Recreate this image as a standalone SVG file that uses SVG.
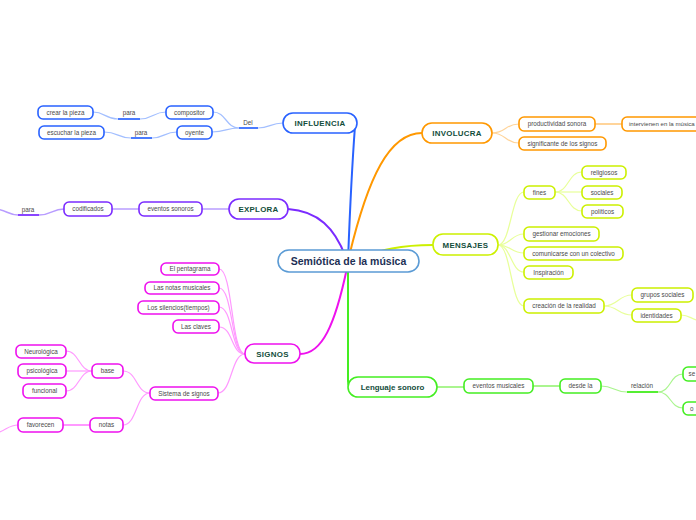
<svg xmlns="http://www.w3.org/2000/svg" width="696" height="520" viewBox="0 0 696 520">
<style>
rect{fill:#fff;stroke-width:1.6}
.t{font-family:"Liberation Sans",Arial,sans-serif;font-size:6.3px;fill:#4a4a4a;text-anchor:middle}
.l{font-family:"Liberation Sans",Arial,sans-serif;font-size:6.3px;fill:#4a4a4a;text-anchor:middle}
.m{font-family:"Liberation Sans",Arial,sans-serif;font-size:7.9px;font-weight:bold;fill:#124d3b;text-anchor:middle;letter-spacing:0.3px}
.c path{fill:none}
.b rect{stroke:#2962ff}.o rect{stroke:#ff9800}.y rect{stroke:#ccf000}.g rect{stroke:#44ee22}.p rect{stroke:#ee11ee}.v rect{stroke:#7b2bff}
</style>
<g id="connectors" class="c">
<path d="M348,261 Q351,180 355,126" stroke="#2962ff" stroke-width="2"/>
<path d="M348,261 C368,175 390,133 422,133" stroke="#ff9800" stroke-width="2"/>
<path d="M348,261 C385,249 400,245 433,245" stroke="#ccf000" stroke-width="2"/>
<path d="M348,261 L348,381 Q348,387 352,387" stroke="#44ee22" stroke-width="2"/>
<path d="M347,268 C335,325 322,354 300,354" stroke="#ee11ee" stroke-width="2"/>
<path d="M346,258 C335,228 318,211 288,209" stroke="#7b2bff" stroke-width="2"/>
<g stroke="#a3bfff" stroke-width="1.2">
<path d="M283,123 C270,123 270,128 258,128"/>
<path d="M239,128 C226,128 226,112 213,112"/>
<path d="M239,128 C226,128 226,132 212,132"/>
<path d="M166,112 C153,112 153,119 140,119"/>
<path d="M118,119 C105,119 105,112 93,112"/>
<path d="M177,132 C164,132 164,138 152,138"/>
<path d="M131,138 C118,138 118,132 104,132"/>
</g>
<g stroke="#4a7bff" stroke-width="2">
<path d="M239,128 H258"/><path d="M118,119 H140"/><path d="M131,138 H152"/>
</g>
<g stroke="#b89cff" stroke-width="1.5">
<path d="M229,209 H202"/>
<path d="M139,209 H112"/>
<path d="M64,209 C52,209 52,215 39,215"/>
<path d="M18,215 C9,215 6,210 -4,209"/>
</g>
<path d="M18,215 H39" stroke="#8a45ff" stroke-width="2"/>
<g stroke="#ffd49a" stroke-width="1.2">
<path d="M492,133 C506,133 505,124 519,124"/>
<path d="M492,133 C506,133 505,143 519,143"/>
<path d="M595,124 H622" stroke-width="2"/>
</g>
<g stroke="#e8ff99" stroke-width="1.2">
<path d="M498,245 C511,245 511,192 524,192"/>
<path d="M498,245 C511,245 511,234 524,234"/>
<path d="M498,245 C511,245 511,253 524,253"/>
<path d="M498,245 C511,245 511,272 524,272"/>
<path d="M498,245 C511,245 511,306 524,306"/>
<path d="M555,192 C569,192 568,172 582,172"/>
<path d="M555,192 H582"/>
<path d="M555,192 C569,192 568,211 582,211"/>
<path d="M604,306 C618,306 618,295 632,295"/>
<path d="M604,306 C618,306 618,315 632,315"/>
<path d="M681,315 C690,315 690,319 700,321"/>
</g>
<g stroke="#aaf58f" stroke-width="1.2">
<path d="M437,387 H464" stroke-width="2"/>
<path d="M533,386 H560" stroke-width="2"/>
<path d="M601,386 C614,386 614,392 627,392"/>
<path d="M658,392 C671,392 670,374 683,374"/>
<path d="M658,392 C671,392 670,408 683,408"/>
</g>
<path d="M627,392 H658" stroke="#55ee33" stroke-width="2"/>
<g stroke="#ff99ff" stroke-width="1.2">
<path d="M245,354 C231,354 233,269 219,269"/>
<path d="M245,354 C231,354 233,288 219,288"/>
<path d="M245,354 C231,354 233,307 219,307"/>
<path d="M245,354 C231,354 233,327 219,327"/>
<path d="M245,354 C231,354 232,393 218,393"/>
<path d="M150,393 C136,393 137,371 123,371"/>
<path d="M150,393 C136,393 137,425 123,425"/>
<path d="M92,371 C79,371 79,351 66,351"/>
<path d="M92,371 H66"/>
<path d="M92,371 C79,371 79,391 66,391"/>
<path d="M90,425 H63" stroke-width="2"/>
<path d="M18,425 C8,425 6,431 -4,433"/>
</g>
</g>
<g id="center"><rect x="278" y="250" width="141" height="22" rx="11" stroke="#5b9bd5"/><text x="348.5" y="264.5" style="font-family:'Liberation Sans',Arial,sans-serif;font-size:10.5px;font-weight:bold;fill:#1c2f55;text-anchor:middle">Semiótica de la música</text></g>
<g class="b">
<g id="influencia"><rect x="283" y="113" width="74" height="20" rx="10"/><text class="m" x="320" y="126">INFLUENCIA</text></g>
<g id="del"><text class="l" x="248" y="124.5">Del</text></g>
<g id="compositor"><rect x="166" y="106" width="47" height="13" rx="5"/><text class="t" x="189.5" y="114.7">compositor</text></g>
<g id="oyente"><rect x="177" y="126" width="35" height="13" rx="5"/><text class="t" x="194.5" y="134.7">oyente</text></g>
<g id="para1"><text class="l" x="129" y="115">para</text></g>
<g id="para2"><text class="l" x="141" y="134.5">para</text></g>
<g id="crear"><rect x="38" y="106" width="55" height="13" rx="5"/><text class="t" x="65.5" y="114.7">crear la pieza</text></g>
<g id="escuchar"><rect x="39" y="126" width="65" height="13" rx="5"/><text class="t" x="71.5" y="134.7">escuchar la pieza</text></g>
</g>
<g class="v">
<g id="explora"><rect x="229" y="199" width="59" height="20" rx="10"/><text class="m" x="258.5" y="212">EXPLORA</text></g>
<g id="eventos-sonoros"><rect x="139" y="202" width="63" height="14" rx="5"/><text class="t" x="170.5" y="211.2">eventos sonoros</text></g>
<g id="codificados"><rect x="64" y="202" width="48" height="14" rx="5"/><text class="t" x="88" y="211.2">codificados</text></g>
<g id="para3"><text class="l" x="28" y="211.5">para</text></g>
</g>
<g class="o">
<g id="involucra"><rect x="422" y="123" width="70" height="20" rx="10"/><text class="m" x="457" y="136">INVOLUCRA</text></g>
<g id="productividad"><rect x="519" y="117" width="76" height="14" rx="5"/><text class="t" x="557" y="126.2">productividad sonora</text></g>
<g id="significante"><rect x="519" y="137" width="87" height="13" rx="5"/><text class="t" x="562.5" y="145.7">significante de los signos</text></g>
<g id="intervienen"><rect x="622" y="117" width="100" height="14" rx="5"/><text class="t" x="629" y="126.2" style="text-anchor:start;font-size:6.1px">intervienen en la música</text></g>
</g>
<g class="y">
<g id="mensajes"><rect x="433" y="234" width="65" height="21" rx="10"/><text class="m" x="465.5" y="247.5">MENSAJES</text></g>
<g id="fines"><rect x="524" y="186" width="31" height="13" rx="5"/><text class="t" x="539.5" y="194.7">fines</text></g>
<g id="religiosos"><rect x="582" y="166" width="44" height="13" rx="5"/><text class="t" x="604" y="174.7">religiosos</text></g>
<g id="sociales"><rect x="582" y="186" width="40" height="13" rx="5"/><text class="t" x="602" y="194.7">sociales</text></g>
<g id="politicos"><rect x="582" y="205" width="41" height="13" rx="5"/><text class="t" x="602.5" y="213.7">políticos</text></g>
<g id="gestionar"><rect x="524" y="227" width="75" height="14" rx="5"/><text class="t" x="561.5" y="236.2">gestionar emociones</text></g>
<g id="comunicarse"><rect x="524" y="247" width="99" height="13" rx="5"/><text class="t" x="573.5" y="255.7">comunicarse con un colectivo</text></g>
<g id="inspiracion"><rect x="524" y="266" width="49" height="13" rx="5"/><text class="t" x="548.5" y="274.7">Inspiración</text></g>
<g id="creacion"><rect x="524" y="299" width="80" height="14" rx="5"/><text class="t" x="564" y="308.2">creación de la realidad</text></g>
<g id="grupos"><rect x="632" y="288" width="61" height="14" rx="5"/><text class="t" x="662.5" y="297.2">grupos sociales</text></g>
<g id="identidades"><rect x="632" y="309" width="49" height="13" rx="5"/><text class="t" x="656.5" y="317.7">identidades</text></g>
</g>
<g class="g">
<g id="lenguaje"><rect x="348" y="377" width="89" height="20" rx="10"/><text class="m" x="392.5" y="390" style="letter-spacing:0">Lenguaje sonoro</text></g>
<g id="eventos-musicales"><rect x="464" y="379" width="69" height="14" rx="5"/><text class="t" x="498.5" y="388.2">eventos musicales</text></g>
<g id="desde"><rect x="560" y="379" width="41" height="14" rx="5"/><text class="t" x="580.5" y="388.2">desde la</text></g>
<g id="relacion"><text class="l" x="642" y="388">relación</text></g>
<g id="rel-top"><rect x="683" y="367" width="40" height="14" rx="5"/><text class="t" x="688.5" y="376.2" style="text-anchor:start">se</text></g>
<g id="rel-bottom"><rect x="683" y="402" width="40" height="13" rx="5"/><text class="t" x="690" y="410.7" style="text-anchor:start">o</text></g>
</g>
<g class="p">
<g id="signos"><rect x="245" y="344" width="55" height="19" rx="9"/><text class="m" x="272.5" y="356.7">SIGNOS</text></g>
<g id="pentagrama"><rect x="161" y="263" width="58" height="12" rx="5"/><text class="t" x="190" y="271.2">El pentagrama</text></g>
<g id="notas-musicales"><rect x="145" y="282" width="74" height="12" rx="5"/><text class="t" x="182" y="290.2">Las notas musicales</text></g>
<g id="silencios"><rect x="138" y="301" width="81" height="13" rx="5"/><text class="t" x="178.5" y="309.7">Los silencios(tiempos)</text></g>
<g id="claves"><rect x="173" y="320" width="46" height="13" rx="5"/><text class="t" x="196" y="328.7">Las claves</text></g>
<g id="sistema"><rect x="150" y="387" width="68" height="13" rx="5"/><text class="t" x="184" y="395.7">Sistema de signos</text></g>
<g id="base"><rect x="92" y="364" width="31" height="14" rx="5"/><text class="t" x="107.5" y="373.2">base</text></g>
<g id="notas"><rect x="90" y="418" width="33" height="14" rx="5"/><text class="t" x="106.5" y="427.2">notas</text></g>
<g id="neurologica"><rect x="16" y="345" width="50" height="13" rx="5"/><text class="t" x="41" y="353.7">Neurológica</text></g>
<g id="psicologica"><rect x="18" y="364" width="48" height="14" rx="5"/><text class="t" x="42" y="373.2">psicológica</text></g>
<g id="funcional"><rect x="23" y="384" width="43" height="14" rx="5"/><text class="t" x="44.5" y="393.2">funcional</text></g>
<g id="favorecen"><rect x="18" y="418" width="45" height="14" rx="5"/><text class="t" x="40.5" y="427.2">favorecen</text></g>
</g>
</svg>
